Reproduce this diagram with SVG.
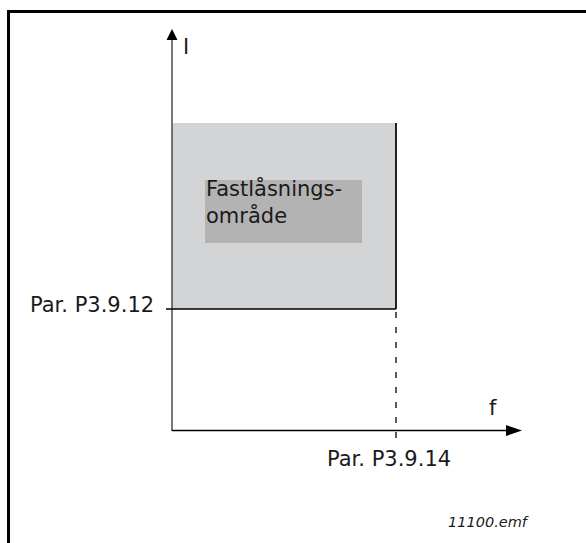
<svg xmlns="http://www.w3.org/2000/svg" width="586" height="543" viewBox="0 0 586 543">
<style>
text{font-family:"DejaVu Sans","Liberation Sans",sans-serif;fill:#1a1a1a}
.lbl{font-size:21px}
.ax{stroke:#000;stroke-width:1.4;fill:none}
</style>
<rect width="586" height="543" fill="#fff"/>
<rect x="8.5" y="11.5" width="620" height="620" fill="none" stroke="#000" stroke-width="3"/>
<g id="region">
<rect x="172" y="123" width="224" height="186" fill="#d3d4d6"/>
<line x1="396" y1="123" x2="396" y2="309" stroke="#222" stroke-width="2"/>
</g>
<g id="label-region">
<rect x="205" y="180" width="157" height="63" fill="#b3b3b3"/>
<text class="lbl" x="206" y="196">Fastlåsnings-</text>
<text class="lbl" x="206" y="223">område</text>
</g>
<g id="connectors">
<line x1="172" y1="431" x2="172" y2="39" stroke="#555" stroke-width="1.6"/>
<polygon points="172,29 166.5,40 177.5,40" fill="#000"/>
<line class="ax" x1="172" y1="430.5" x2="507" y2="430.5"/>
<polygon points="522,430.5 506,425 506,436" fill="#000"/>
<line class="ax" x1="166" y1="309" x2="396" y2="309"/>
<line x1="396" y1="312" x2="396" y2="443" stroke="#000" stroke-width="1.3" stroke-dasharray="6 9"/>
</g>
<g id="axis-labels">
<text class="lbl" x="183" y="54">I</text>
<text class="lbl" x="489" y="415">f</text>
<text class="lbl" x="30" y="312">Par. P3.9.12</text>
<text class="lbl" x="327" y="466">Par. P3.9.14</text>
<text x="448" y="527" font-size="14.5" font-style="italic">11100.emf</text>
</g>
</svg>
